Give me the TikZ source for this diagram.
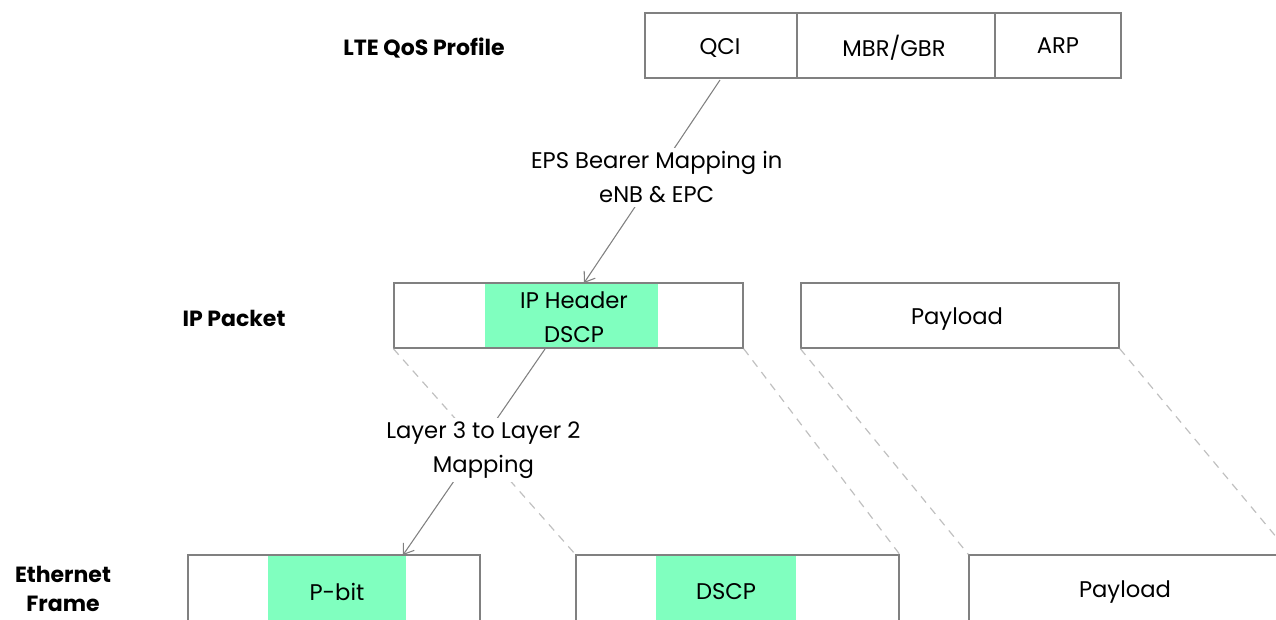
\documentclass[tikz,border=0pt]{standalone}
\usepackage{fontspec}
\setmainfont{Poppins}
\usetikzlibrary{arrows.meta}
\definecolor{boxgray}{HTML}{808080}
\definecolor{dashgray}{HTML}{C0C0C0}
\definecolor{fieldgreen}{HTML}{80FFBF}
\begin{document}
\begin{tikzpicture}[x=0.75pt,y=-0.75pt,
  cell/.style={draw=boxgray,line width=1pt,inner sep=0pt,minimum height=48.75pt,font=\fontsize{17}{25.5}\selectfont},
  greenfield/.style={fill=fieldgreen,draw=none,inner sep=0pt},
  txt/.style={font=\fontsize{17}{25.5}\selectfont,align=center,inner sep=1pt},
  rowlabel/.style={font=\bfseries\fontsize{16.5}{22}\selectfont,align=center},
  maparrow/.style={draw=boxgray,line width=0.8pt,-{Straight Barb[length=7pt,width=10pt]}},
  guide/.style={draw=dashgray,line width=0.9pt,dash pattern=on 6pt off 5pt}]
\clip (0,0) rectangle (1276,619);
\useasboundingbox (0,0) rectangle (1276,619);
% Row labels
\node[rowlabel] (lqos) at (424,48) {LTE QoS Profile};
\node[rowlabel] (lip) at (234,318) {IP Packet};
\node[rowlabel] (leth) at (63,589) {Ethernet\\Frame};
% QoS profile
\node[cell,minimum width=114pt] (qci) at (721,45.5) {};
\node[cell,minimum width=148.5pt] (mbr) at (896,45.5) {};
\node[cell,minimum width=94.5pt] (arp) at (1058,45.5) {};
\node[txt] (qcitxt) at (720,48) {QCI};
\node[txt] (mbrtxt) at (894,48) {MBR/GBR};
\node[txt] (arptxt) at (1058,46) {ARP};
% IP packet
\node[greenfield,minimum width=129.75pt,minimum height=48.75pt] (iphg) at (571.5,315.5) {};
\node[cell,minimum width=261.75pt] (ip) at (568.5,315.5) {};
\node[txt] (iphtxt) at (574,317) {IP Header\\DSCP};
\node[cell,minimum width=238.5pt] (ippay) at (960,315.5) {};
\node[txt] (ippaytxt) at (957,319) {Payload};
% Ethernet frame
\node[greenfield,minimum width=103.5pt,minimum height=63.75pt] (pbitg) at (337,597.5) {};
\node[cell,minimum width=219pt,minimum height=63.75pt] (eth1) at (334,597.5) {};
\node[txt] (pbit) at (337,592) {P-bit};
\node[greenfield,minimum width=105pt,minimum height=63.75pt] (dscpg) at (726,597.5) {};
\node[cell,minimum width=242.25pt,minimum height=63.75pt] (eth2) at (737.5,597.5) {};
\node[txt] (dscp) at (726,592) {DSCP};
\node[cell,minimum width=240.75pt,minimum height=63.75pt] (eth3) at (1129.5,597.5) {};
\node[txt] (epay) at (1125,592) {Payload};
% Dashed guides
\draw[guide] (ip.south west) -- (eth2.north west);
\draw[guide] (ip.south east) -- (eth2.north east);
\draw[guide] (ippay.south west) -- (eth3.north west);
\draw[guide] (ippay.south east) -- (eth3.north east);
% Mapping arrows
\coordinate (a1s) at (720,80);
\coordinate (a1e) at (584,283);
\draw[maparrow] (a1s) -- node[txt,fill=white,inner sep=3pt,pos=0.48,xshift=1.5pt] (m1) {EPS Bearer Mapping in\\eNB \& EPC} (a1e);
\coordinate (a2s) at (545,349);
\coordinate (a2e) at (403,555);
\draw[maparrow] (a2s) -- node[txt,fill=white,inner sep=3pt,pos=0.49,xshift=6pt] (m2) {Layer 3 to Layer 2\\Mapping} (a2e);
\end{tikzpicture}
\end{document}
